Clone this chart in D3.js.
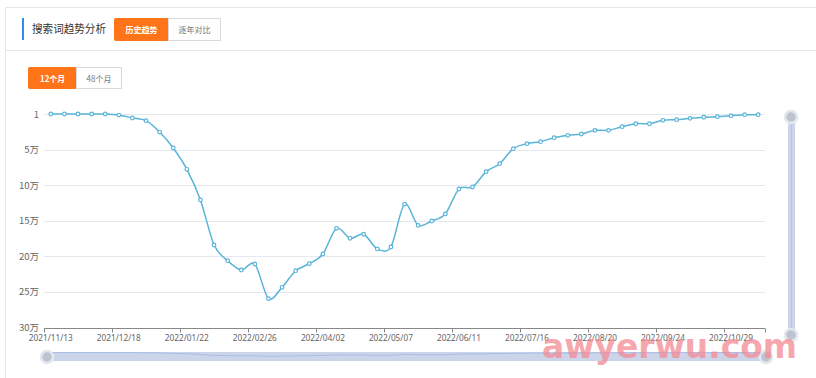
<!DOCTYPE html>
<html lang="zh">
<head>
<meta charset="UTF-8" />
<title>搜索词趋势分析</title>
<style>
  body { margin: 0; background: #fff; font-family: "Noto Sans CJK SC", "Microsoft YaHei", sans-serif; }
  svg { display: block; }
</style>
</head>
<body>
<div id="chart"></div>
<script src="https://d3js.org/d3.v7.min.js"></script>
<script>
  const width = 816, height = 378;

  // weekly dates, 2021/11/13 .. 2022/11/12
  const start = new Date(2021, 10, 13);
  const dates = d3.range(53).map(i => d3.timeFormat("%Y/%m/%d")(d3.timeDay.offset(start, i * 7)));

  // search rank per week
  const ranks = [
    1, 1, 1, 1, 1, 1500, 5600, 9400, 25400, 47900,
    77900, 121000, 184500, 206600, 219700, 211300, 260100, 244100, 220700, 210800,
    197200, 161000, 175100, 169400, 190100, 187300, 126800, 156800, 150700, 140800,
    105600, 102800, 81200, 70000, 48900, 41800, 39000, 33400, 30000, 28200,
    23000, 23000, 17900, 13700, 13700, 8900, 8000, 6100, 4600, 3800,
    2400, 1000, 1000
  ];

  const yTicks = [1, 50000, 100000, 150000, 200000, 250000, 300000];
  const yTickLabels = ["1", "5万", "10万", "15万", "20万", "25万", "30万"];

  const svg = d3.select("#chart").append("svg")
    .attr("width", width).attr("height", height);

  // card frame
  svg.append("path")
    .attr("d", "M5.5,378 V7.5 H816")
    .attr("fill", "none").attr("stroke", "#e6e6e6");
  svg.append("line")
    .attr("x1", 5).attr("x2", 816).attr("y1", 50.5).attr("y2", 50.5)
    .attr("stroke", "#e6e6e6");

  // header
  svg.append("rect").attr("x", 22).attr("y", 18).attr("width", 2).attr("height", 22).attr("fill", "#2b8ef0");
  svg.append("text").attr("x", 32).attr("y", 33)
    .attr("font-size", 10.8).attr("fill", "#333")
    .attr("textLength", 74).attr("lengthAdjust", "spacingAndGlyphs")
    .text("搜索词趋势分析");

  function button(x, y, w, h, label, active, tw) {
    svg.append("rect").attr("x", x + 0.5).attr("y", y + 0.5).attr("width", w).attr("height", h)
      .attr("fill", active ? "#ff7418" : "#fff")
      .attr("stroke", active ? "#ff7418" : "#d9d9d9")
      .attr("rx", active ? 1 : 0);
    svg.append("text").attr("x", x + w / 2 + 0.5).attr("y", y + h / 2 + 4)
      .attr("text-anchor", "middle").attr("font-size", 8.5)
      .attr("font-weight", active ? "bold" : "normal")
      .attr("textLength", tw).attr("lengthAdjust", "spacingAndGlyphs")
      .attr("fill", active ? "#fff" : "#777").text(label);
  }
  button(114, 18, 54, 22, "历史趋势", true, 32);
  button(168, 18, 52, 22, "逐年对比", false, 32);
  button(28, 67, 48, 21, "12个月", true, 25);
  button(76, 67, 45, 21, "48个月", false, 25);

  // scales
  const x = d3.scaleBand().domain(dates).range([44, 765]).padding(0);
  const y = d3.scaleLinear().domain([0, 300000]).range([114, 327]);
  const cx = d => x(d) + x.bandwidth() / 2;

  // grid
  svg.append("g").selectAll("line").data(yTicks.slice(0, -1)).join("line")
    .attr("x1", 44).attr("x2", 765)
    .attr("y1", d => Math.round(y(d)) + 0.5).attr("y2", d => Math.round(y(d)) + 0.5)
    .attr("stroke", "#e6e8f0");

  // y labels
  svg.append("g").selectAll("text").data(yTicks).join("text")
    .attr("x", 39).attr("y", d => y(d) + 3.5)
    .attr("text-anchor", "end").attr("font-size", 9.5).attr("fill", "#666")
    .text((d, i) => yTickLabels[i]);

  // x axis
  const xAxis = svg.append("g").attr("transform", "translate(0,328.5)");
  xAxis.append("line").attr("x1", 44).attr("x2", 765).attr("stroke", "#888");
  const labelled = dates.filter((d, i) => i % 5 === 0);
  xAxis.selectAll("line.tick").data(labelled).join("line").attr("class", "tick")
    .attr("x1", d => Math.round(x(d)) + 0.5).attr("x2", d => Math.round(x(d)) + 0.5)
    .attr("y1", 0).attr("y2", 4).attr("stroke", "#888");
  xAxis.append("line").attr("x1", 765.5).attr("x2", 765.5).attr("y1", 0).attr("y2", 4).attr("stroke", "#888");
  xAxis.selectAll("text").data(labelled).join("text")
    .attr("x", d => cx(d)).attr("y", 12)
    .attr("text-anchor", "middle").attr("font-size", 9.5).attr("fill", "#666")
    .attr("font-family", "'Noto Sans', sans-serif")
    .attr("textLength", 44).attr("lengthAdjust", "spacingAndGlyphs")
    .text(d => d);

  // line
  const pts = dates.map((d, i) => [cx(d), y(ranks[i])]);
  svg.append("path").datum(pts)
    .attr("d", d3.line().curve(d3.curveCardinal.tension(0.1)))
    .attr("fill", "none").attr("stroke", "#59b4d8").attr("stroke-width", 1.5);
  svg.append("g").selectAll("circle").data(pts).join("circle")
    .attr("cx", d => d[0]).attr("cy", d => d[1]).attr("r", 1.8)
    .attr("fill", "#fff").attr("stroke", "#59b4d8").attr("stroke-width", 1.2);

  // horizontal data zoom
  const hz = svg.append("g");
  hz.append("rect").attr("x", 47).attr("y", 352).attr("width", 719).attr("height", 9)
    .attr("fill", "#ccd4ea");
  const shadowY = d3.scaleLinear().domain([0, 300000]).range([352.5, 357]);
  hz.append("path").datum(dates.map((d, i) => [47 + i * 719 / 52, shadowY(ranks[i])]))
    .attr("d", d3.line().curve(d3.curveMonotoneX))
    .attr("fill", "none").attr("stroke", "#a9bde8").attr("stroke-width", 1);

  // vertical data zoom
  svg.append("rect").attr("x", 788).attr("y", 116).attr("width", 7).attr("height", 219)
    .attr("fill", "#ccd4ea");
  svg.append("line").attr("x1", 791.5).attr("x2", 791.5).attr("y1", 116).attr("y2", 335)
    .attr("stroke", "#b3c3ea");

  const handles = [[47, 357], [766, 357], [791, 117], [791, 335]];
  svg.append("g").selectAll("circle").data(handles).join("circle")
    .attr("cx", d => d[0]).attr("cy", d => d[1]).attr("r", 6)
    .attr("fill", "#bdc4cf").attr("stroke", "#e3e7ee").attr("stroke-width", 2.5);

  // watermark
  svg.append("text").attr("x", 542).attr("y", 358)
    .attr("font-family", "'DejaVu Sans', sans-serif").attr("font-weight", "bold")
    .attr("font-size", 34).attr("fill", "#f48a94").attr("opacity", 0.75)
    .attr("textLength", 255).attr("lengthAdjust", "spacingAndGlyphs")
    .text("awyerwu.com");
</script>
</body>
</html>
